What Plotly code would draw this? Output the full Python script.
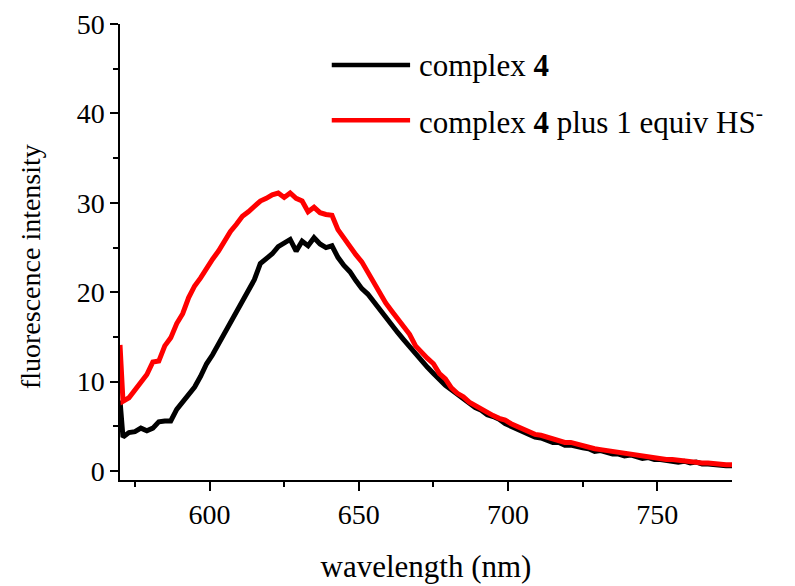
import plotly.graph_objects as go

wavelength = [570, 571, 573, 575, 577, 579, 581, 583, 585, 587, 589, 591, 593, 595, 597, 599,
              601, 603, 605, 607, 609, 611, 613, 615, 617, 619, 621, 623, 625, 627, 629,
              631, 633, 635, 637, 639, 641, 643, 645, 647, 649, 651, 653, 655, 657, 659,
              661, 663, 665, 667, 669, 671, 673, 675, 677, 679, 681, 683, 685, 687, 689,
              691, 693, 695, 697, 699, 701, 703, 705, 707, 709, 711, 713, 715, 717, 719,
              721, 723, 725, 727, 729, 731, 733, 735, 737, 739, 741, 743, 745, 747, 749,
              751, 753, 755, 757, 759, 761, 763, 765, 767, 769, 771, 773, 775]

complex4 = [7.9, 3.8, 4.3, 4.4, 4.8, 4.5, 4.8, 5.5, 5.6, 5.6, 6.9, 7.8, 8.5, 9.4, 10.6, 12.0,
            13.0, 14.2, 15.2, 16.4, 17.6, 18.8, 20.1, 21.4, 23.2, 23.8, 24.3, 25.1, 25.5, 25.9, 24.6,
            25.7, 25.2, 26.1, 25.4, 25.0, 25.2, 23.9, 23.0, 22.3, 21.3, 20.4, 19.8, 18.9, 18.1, 17.3,
            16.2, 15.5, 14.7, 13.9, 13.0, 12.3, 11.6, 10.9, 10.2, 9.6, 9.1, 8.6, 8.0, 7.6, 7.1,
            6.8, 6.3, 6.1, 5.8, 5.3, 5.0, 4.7, 4.4, 4.1, 3.8, 3.7, 3.4, 3.2, 3.2, 2.9,
            2.9, 2.7, 2.6, 2.5, 2.2, 2.3, 2.1, 1.9, 1.9, 1.7, 1.8, 1.6, 1.4, 1.5, 1.3,
            1.3, 1.2, 1.2, 1.0, 1.1, 0.9, 1.0, 0.8, 0.8, 0.7, 0.7, 0.6, 0.6]

complex4_hs = [14.1, 7.8, 8.2, 9.0, 10.0, 10.8, 12.2, 12.3, 14.0, 14.9, 16.5, 17.6, 19.4, 20.7, 21.6, 22.7,
               23.7, 24.6, 25.8, 26.8, 27.6, 28.5, 29.0, 29.7, 30.2, 30.5, 30.9, 31.1, 30.6, 31.1, 30.5,
               30.2, 29.0, 29.5, 28.9, 28.7, 28.6, 27.0, 26.0, 25.2, 24.2, 23.4, 22.2, 21.2, 20.0, 18.8,
               17.9, 17.0, 16.3, 15.3, 14.0, 13.2, 12.6, 12.0, 10.9, 10.3, 9.3, 8.7, 8.3, 7.7, 7.3,
               6.9, 6.5, 6.2, 5.9, 5.7, 5.3, 5.0, 4.8, 4.4, 4.1, 4.0, 3.8, 3.6, 3.5, 3.2,
               3.2, 3.0, 2.9, 2.7, 2.5, 2.4, 2.3, 2.1, 2.0, 1.9, 1.8, 1.7, 1.6, 1.6, 1.5,
               1.4, 1.3, 1.3, 1.2, 1.1, 1.1, 1.0, 0.9, 0.9, 0.8, 0.8, 0.7, 0.7]

x_ticks = [600, 650, 700, 750]
y_ticks = [0, 10, 20, 30, 40, 50]
series_names = ["complex <b>4</b>", "complex <b>4</b> plus 1 equiv HS<sup>-</sup>"]
series_colors = ["#000000", "#ff0000"]

FONT = "Liberation Serif"

fig = go.Figure()
fig.add_trace(go.Scatter(x=wavelength, y=complex4, mode="lines",
                         line=dict(color=series_colors[0], width=5), name=series_names[0],
                         showlegend=False))
fig.add_trace(go.Scatter(x=wavelength, y=complex4_hs, mode="lines",
                         line=dict(color=series_colors[1], width=5), name=series_names[1],
                         showlegend=False))

# custom legend (long sample lines as in the reference)
leg_y = [0.910, 0.789]
for name, color, ly in zip(series_names, series_colors, leg_y):
    fig.add_shape(type="line", xref="paper", yref="paper", x0=0.346, x1=0.474, y0=ly, y1=ly,
                  line=dict(color=color, width=4.5))
    fig.add_annotation(xref="paper", yref="paper", x=0.485, y=ly, text=name, showarrow=False,
                       xanchor="left", yanchor="middle", font=dict(family=FONT, size=31, color="#000"))

# y-axis title, placed as in the reference
fig.add_annotation(xref="paper", yref="paper", x=-0.147, y=0.467, text="fluorescence intensity",
                   textangle=-90, showarrow=False, xanchor="center", yanchor="middle",
                   font=dict(family=FONT, size=28, color="#000"))

fig.update_layout(
    width=795, height=586,
    margin=dict(l=120, r=63, t=24, b=106),
    paper_bgcolor="white", plot_bgcolor="white",
    font=dict(family=FONT, color="#000"),
    xaxis=dict(range=[570, 775], tickvals=x_ticks, ticks="outside", ticklen=9, tickwidth=1.5,
               tickcolor="#000", showline=True, linecolor="#000", linewidth=1.5, showgrid=False,
               zeroline=False, tickfont=dict(family=FONT, size=28),
               automargin=False,
               minor=dict(tickvals=[575, 625, 675, 725], ticks="outside", ticklen=5, tickwidth=1.5,
                          tickcolor="#000"),
               title=dict(text="wavelength (nm)", font=dict(family=FONT, size=31), standoff=26)),
    yaxis=dict(range=[-1.0, 50], tickvals=y_ticks, ticks="outside", ticklen=8, tickwidth=1.5,
               tickcolor="#000", showline=True, linecolor="#000", linewidth=1.5, showgrid=False,
               zeroline=False, tickfont=dict(family=FONT, size=28), automargin=False,
               minor=dict(tickvals=[5, 15, 25, 35, 45], ticks="outside", ticklen=5, tickwidth=1.5,
                          tickcolor="#000")),
)

fig.write_html("out.html")
